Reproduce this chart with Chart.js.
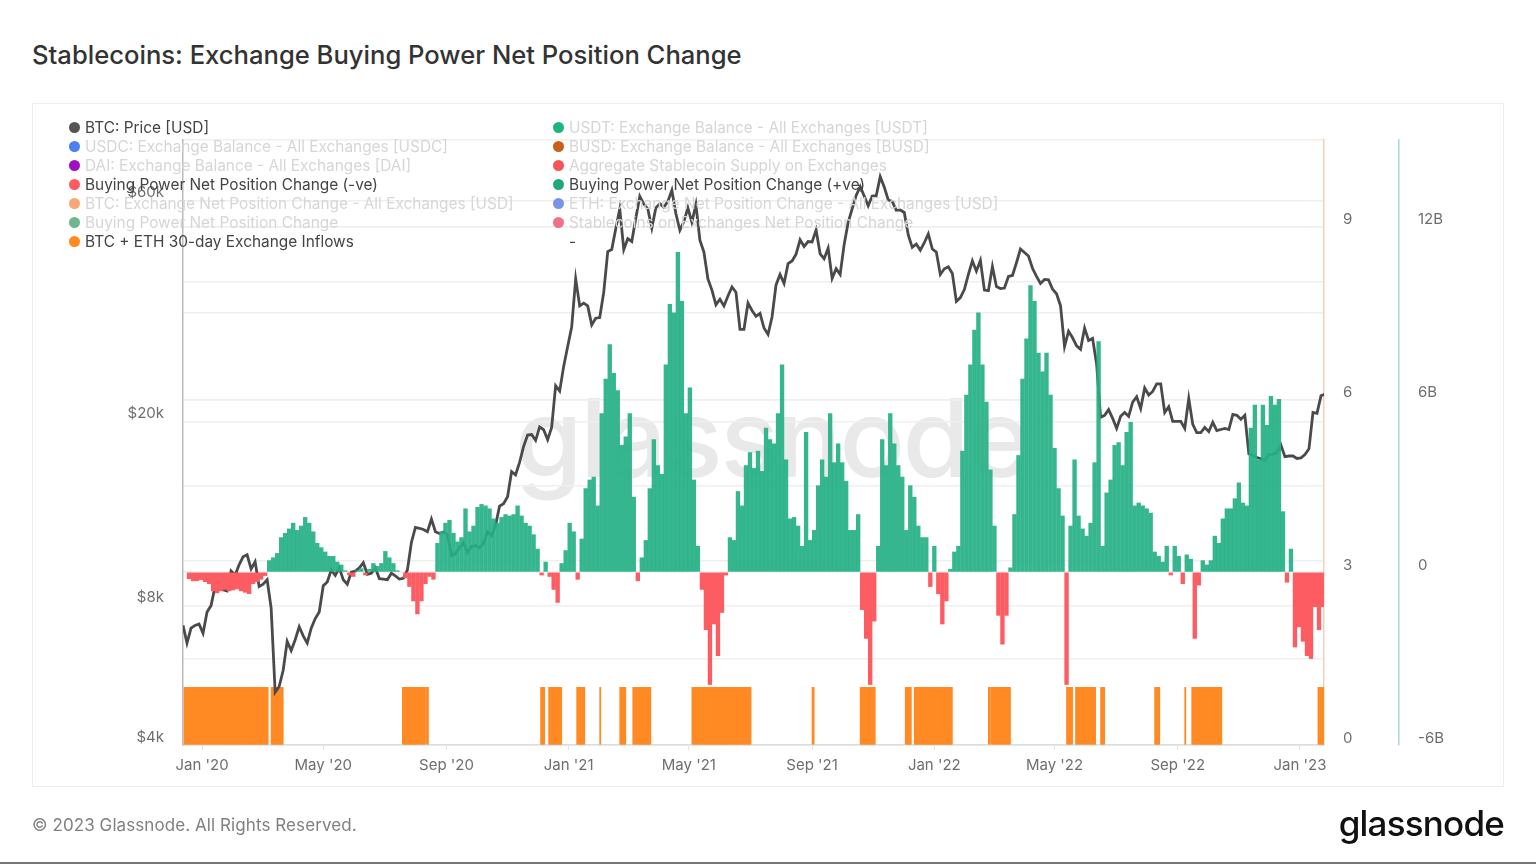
<!DOCTYPE html>
<html>
<head>
<meta charset="utf-8">
<title>Stablecoins: Exchange Buying Power Net Position Change</title>
<script src="https://cdn.jsdelivr.net/npm/chart.js@4/dist/chart.umd.min.js"></script>
<style>
  html, body { margin: 0; padding: 0; background: #fff; overflow: hidden; }
  body { width: 1536px; height: 864px; position: relative; font-family: Inter, sans-serif; }
  h1 { position: absolute; left: 32px; top: 39px; margin: 0; font-size: 25.6px; line-height: 32px; font-weight: 500; color: #333; white-space: nowrap; }
  #card { position: absolute; left: 32px; top: 103px; width: 1470px; height: 682px; border: 1.5px solid #eee; }
  #watermark { position: absolute; left: 515px; top: 372px; font: 500 109px/130px Inter, sans-serif; letter-spacing: -2.6px; color: #e9e9e9; white-space: nowrap; }
  canvas { position: absolute; left: 0; top: 0; }
  #legend span { position: absolute; font-size: 15.4px; line-height: 20px; white-space: nowrap; }
  #legend i { position: absolute; width: 11px; height: 11px; border-radius: 50%; }
  #footer { position: absolute; left: 32px; top: 815px; font-size: 17px; line-height: 21px; color: #808080; letter-spacing: .08px; }
  #logo { position: absolute; right: 32px; top: 802px; font: 500 35px/42px Inter, sans-serif; letter-spacing: -.8px; color: #111; }
  #edge { position: absolute; left: 0; top: 862px; width: 1536px; height: 2px; background: #777; }
</style>
</head>
<body>
<h1>Stablecoins: Exchange Buying Power Net Position Change</h1>
<div id="card"></div>
<div id="watermark">glassnode</div>
<canvas id="chart" width="1536" height="864"></canvas>
<div id="legend"></div>
<div id="footer">© 2023 Glassnode. All Rights Reserved.</div>
<div id="logo">glassnode</div>
<div id="edge"></div>
<script>
// x axis is days since 13 Dec 2019
const tickDays = [19, 140, 263, 385, 505, 628, 750, 870, 993, 1115];
const tickNames = ["Jan '20", "May '20", "Sep '20", "Jan '21", "May '21", "Sep '21", "Jan '22", "May '22", "Sep '22", "Jan '23"];
const priceTicks = [4000, 8000, 10000, 20000, 40000, 60000];
const priceLabelled = [4000, 8000, 20000, 60000];
const inflowTicks = [0, 3, 6, 9];
const netTicks = [-6, -3, 0, 3, 6, 9, 12, 15];
const netLabelled = [-6, 0, 6, 12];

// BTC price, one value every 4 days from day 0
const btcPrice = [
  7250, 6640, 7150, 7250, 7300, 6970, 7750, 8000, 8800, 8900, 8650, 8600, 9500, 9300, 9800, 10200, 10300, 9600, 9950, 8800,
  8900, 9100, 7900, 5200, 5350, 5800, 6700, 6400, 6750, 7200, 6880, 6640, 7150, 7500, 7750, 8830, 9000, 9550, 9300, 9650,
  9100, 8900, 9450, 9500, 9650, 9900, 9350, 9400, 9650, 9150, 9130, 9100, 9400, 9270, 9130, 9160, 9550, 10950, 11800, 11750,
  11680, 11550, 12300, 11550, 11450, 11530, 11400, 10250, 10350, 10680, 10930, 10420, 10730, 10780, 10670, 10900, 11550, 11320, 11920, 13120,
  13280, 13740, 15580, 15330, 16300, 17650, 18680, 18730, 18200, 19450, 19180, 18250, 19400, 23870, 23240, 26280, 29000, 31970, 40600, 35500,
  36000, 35500, 32300, 33400, 33500, 38000, 46500, 47000, 52100, 57500, 47000, 49600, 48900, 54900, 61200, 58900, 57500, 52300, 57800, 59000,
  58000, 59700, 63100, 56200, 51700, 54000, 57800, 53800, 58800, 49200, 46400, 40600, 38400, 35700, 36700, 35500, 37300, 39000, 38000, 31600,
  31600, 36000, 34700, 33700, 34200, 31800, 30800, 33600, 39400, 41500, 39700, 43800, 44400, 45900, 49300, 47700, 48900, 48800, 51800, 46000,
  44900, 47300, 40700, 42700, 41500, 48200, 53800, 57500, 61500, 64300, 61300, 58400, 61300, 61400, 67500, 64100, 60100, 59700, 57100, 57200,
  56500, 50500, 47500, 48300, 46800, 48600, 50800, 47100, 46400, 41500, 42700, 43100, 41700, 36300, 37000, 38500, 41500, 44400, 42200, 44500,
  38400, 38300, 43200, 39100, 38700, 38800, 41100, 41300, 44000, 47100, 46300, 45500, 42800, 41100, 39700, 40500, 40400, 38600, 37700, 35500,
  29000, 31300, 30300, 29100, 28600, 31800, 29900, 30200, 26600, 20400, 20600, 21200, 20300, 19300, 20500, 20900, 20500, 22000, 22600, 21300,
  23600, 22800, 23200, 24100, 24100, 20900, 21500, 20000, 20000, 20000, 19300, 22400, 19700, 18900, 18900, 19400, 19000, 19900, 19100, 19200,
  19300, 19200, 20700, 20600, 20200, 20600, 17000, 16900, 16700, 16600, 16450, 16950, 16970, 17120, 17780, 16780, 16830, 16830, 16630, 16680,
  16950, 17440, 20900, 20800, 22700, 22900
];

// Buying power net position change in billions, one value every 4 days from day 6
const netChange = [
  -0.23, -0.3, -0.3, -0.26, -0.33, -0.4, -0.65, -0.72, -0.65, -0.6, -0.65, -0.62, -0.58, -0.65, -0.7, -0.75, -0.4, -0.33, -0.25, -0.12,
  0.4, 0.5, 0.65, 1.2, 1.35, 1.5, 1.7, 1.45, 1.6, 1.9, 1.7, 1.4, 1.0, 0.85, 0.7, 0.55, 0.55, 0.35, 0.25, 0.05,
  -0.1, -0.15, 0.05, 0.12, -0.1, 0.1, 0.3, 0.2, 0.3, 0.72, 0.5, 0.3, 0.05, 0, -0.2, -0.5, -1.0, -1.45, -1.0, -0.4,
  -0.15, -0.25, 1.0, 1.4, 1.7, 1.8, 1.35, 1.05, 1.2, 2.2, 1.4, 1.6,
  2.25, 2.35, 2.3, 2.2, 1.85, 1.7, 1.9, 2.0, 1.95, 2.0, 2.3, 1.95, 1.7, 1.6, 1.3, 0.8, -0.1, 0.35, -0.15, -0.6,
  -1.05, 0.3, 0.75, 1.7, 1.4, -0.25, 1.15, 2.9, 3.2, 3.3, 2.3, 5.5, 6.7, 7.9, 6.9, 6.3, 4.4, 4.7, 5.5, 2.6,
  -0.3, 0.5, 1.1, 2.9, 4.6, 3.7, 3.4, 7.2, 9.3, 9.0, 11.1, 9.4, 5.5, 6.4, 3.2, 0.9, -0.6, -2.0, -3.9, -1.8,
  -2.9, -1.4, -0.1, 1.2, 1.1, 2.8, 2.3, 3.7, 4.15, 3.6, 4.2, 3.5, 5.0, 4.6,
  4.45, 5.5, 7.2, 3.9, 1.85, 1.9, 1.6, 0.9, 4.85, 1.1, 1.45, 3.0, 3.9, 3.3, 5.5, 3.8, 4.45, 3.8, 3.15, 1.45,
  1.45, 2.0, -1.3, -2.3, -3.9, -1.7, 0.9, 4.6, 3.7, 5.5, 4.45, 3.7, 3.3, 1.45, 3.0, 2.6, 1.6, 1.2, 1.2, -0.5,
  0.9, -0.75, -1.8, -1.0, 0.1, 0.7, 0.9, 4.2, 6.15, 7.2, 8.4, 9.0, 7.2, 5.9, 3.55, 1.6, -1.5, -2.5, -1.5, 0.15,
  2.0, 4.05, 6.7, 8.1, 9.95, 9.4, 7.6, 6.95, 7.6, 6.15, 4.3, 2.9,
  1.95, -3.9, 1.6, 3.9, 1.95, 1.5, 1.25, 1.7, 3.8, 8.0, 0.9, 2.75, 3.2, 4.4, 4.5, 3.7, 4.85, 5.2, 2.3, 2.4,
  2.3, 2.2, 2.05, 0.7, 0.55, 0.35, 0.9, -0.1, 0.9, 0.55, -0.4, 0.6, 0.45, -2.3, -0.45, 0.4, 0.25, 0.4, 1.25, 1.0,
  1.85, 2.2, 2.2, 2.55, 3.1, 2.4, 2.3, 5.0, 5.8, 3.9, 5.8, 5.1, 6.1, 5.8, 6.0, 2.1, -0.35, 0.8, -2.6, -1.9,
  -2.4, -2.9, -3.0, -1.2, -2.0, -1.2
];

// first and last day of each run of high BTC + ETH exchange inflows
const inflowRuns = [
  [1, 85], [88, 100], [219, 242], [243, 245], [357, 361], [365, 378], [393, 401], [416, 417], [436, 442], [449, 467],
  [508, 567], [628, 630], [676, 691], [721, 727], [730, 768], [804, 806], [807, 826], [882, 888], [891, 911], [916, 920],
  [970, 975], [1000, 1001], [1007, 1037], [1133, 1141]
];
const inflowLevel = 1;

const legendLeft = [
  ["BTC: Price [USD]", "#555555", true],
  ["USDC: Exchange Balance - All Exchanges [USDC]", "#4a80f0", false],
  ["DAI: Exchange Balance - All Exchanges [DAI]", "#a010c0", false],
  ["Buying Power Net Position Change (-ve)", "#fd5c63", true],
  ["BTC: Exchange Net Position Change - All Exchanges [USD]", "#f8a673", false],
  ["Buying Power Net Position Change", "#6fb58e", false],
  ["BTC + ETH 30-day Exchange Inflows", "#ff8a1f", true],
];
const legendRight = [
  ["USDT: Exchange Balance - All Exchanges [USDT]", "#1db57e", false],
  ["BUSD: Exchange Balance - All Exchanges [BUSD]", "#c8601c", false],
  ["Aggregate Stablecoin Supply on Exchanges", "#f55555", false],
  ["Buying Power Net Position Change (+ve)", "#1fa87c", true],
  ["ETH: Exchange Net Position Change - All Exchanges [USD]", "#7a93e8", false],
  ["Stablecoins on Exchanges Net Position Change", "#f2708a", false],
  ["-", null, true],
];

const green = "rgba(38, 176, 133, 0.93)";
const red = "rgb(253, 92, 99)";
const orange = "#ff8a24";
const lineGrey = "#4a4a4a";
const gridGrey = "#efefef";
const tickGrey = "#6e6e6e";

function addLegend(items, dotX, textX) {
  const box = document.getElementById("legend");
  items.forEach(([name, color, active], i) => {
    const y = 117.5 + i * 19.1;
    if (color) {
      const dot = document.createElement("i");
      dot.style.cssText = `left:${dotX}px;top:${y + 4}px;background:${color}`;
      box.appendChild(dot);
    }
    const label = document.createElement("span");
    label.textContent = name;
    label.style.cssText = `left:${textX}px;top:${y}px;color:${active ? "#444" : "#d6d6d6"}`;
    box.appendChild(label);
  });
}
addLegend(legendLeft, 68.5, 85);
addLegend(legendRight, 552.5, 569);

const netPoints = netChange.map((v, i) => ({ x: 6 + i * 4, y: v }));
const inflowPoints = [];
inflowRuns.forEach(([from, to]) => {
  for (let d = from; d < to; d++) inflowPoints.push({ x: d + 0.5, y: inflowLevel });
});

const tickFont = { family: "Inter, sans-serif", size: 15 };

new Chart(document.getElementById("chart"), {
  data: {
    datasets: [
      {
        type: "bar",
        label: "Buying Power Net Position Change (+ve)",
        data: netPoints.filter((p) => p.y > 0),
        backgroundColor: green,
        yAxisID: "yNet",
        barThickness: 3.7,
        grouped: false,
        order: 1,
      },
      {
        type: "bar",
        label: "Buying Power Net Position Change (-ve)",
        data: netPoints.filter((p) => p.y < 0),
        backgroundColor: red,
        yAxisID: "yNet",
        barThickness: 3.7,
        grouped: false,
        order: 1,
      },
      {
        type: "line",
        label: "BTC: Price [USD]",
        data: btcPrice.map((v, i) => ({ x: i * 4, y: v })),
        borderColor: lineGrey,
        borderWidth: 2.8,
        pointRadius: 0,
        tension: 0,
        yAxisID: "yPrice",
        order: 2,
      },
      {
        type: "bar",
        label: "BTC + ETH 30-day Exchange Inflows",
        data: inflowPoints,
        backgroundColor: orange,
        yAxisID: "yInflow",
        barThickness: 1.15,
        grouped: false,
        order: 3,
      },
    ],
  },
  options: {
    responsive: false,
    animation: false,
    events: [],
    layout: { padding: { top: 140 } },
    plugins: { legend: { display: false }, tooltip: { enabled: false } },
    scales: {
      x: {
        type: "linear",
        offset: false,
        min: 0,
        max: 1139,
        afterBuildTicks: (s) => { s.ticks = tickDays.map((value) => ({ value })); },
        afterFit: (s) => { s.height = 119; },
        grid: { offset: false, drawOnChartArea: false, color: "#e4e4e4", tickLength: 5 },
        border: { color: "#dddddd", width: 1.5 },
        ticks: {
          font: tickFont,
          color: tickGrey,
          padding: 6,
          maxRotation: 0,
          autoSkip: false,
          callback: (v) => tickNames[tickDays.indexOf(v)],
        },
      },
      yPrice: {
        type: "logarithmic",
        position: "left",
        min: 4000,
        max: 81000,
        afterBuildTicks: (s) => { s.ticks = priceTicks.map((value) => ({ value })); },
        afterFit: (s) => { s.width = 183; },
        grid: { color: gridGrey, lineWidth: 1.5, drawTicks: false },
        border: { color: "#bcbcbc", width: 1.5 },
        ticks: {
          font: tickFont,
          color: tickGrey,
          padding: 19,
          labelOffset: -8,
          autoSkip: false,
          callback: (v) => (priceLabelled.includes(v) ? `$${v / 1000}k` : ""),
        },
      },
      yInflow: {
        position: "right",
        min: 0,
        max: 10.5,
        afterBuildTicks: (s) => { s.ticks = inflowTicks.map((value) => ({ value })); },
        afterFit: (s) => { s.width = 75; },
        grid: { color: gridGrey, lineWidth: 1.5, drawTicks: false },
        border: { color: "#f1cfb8", width: 1.5 },
        ticks: {
          font: tickFont,
          color: tickGrey,
          padding: 19,
          labelOffset: -7,
          autoSkip: false,
          callback: (v) => `${v}`,
        },
      },
      yNet: {
        position: "right",
        min: -6,
        max: 15,
        afterBuildTicks: (s) => { s.ticks = netTicks.map((value) => ({ value })); },
        afterFit: (s) => { s.width = 137; },
        grid: { color: gridGrey, lineWidth: 1.5, drawTicks: false },
        border: { color: "#a8dccd", width: 1.5 },
        ticks: {
          font: tickFont,
          color: tickGrey,
          padding: 19,
          labelOffset: -7,
          autoSkip: false,
          callback: (v) => (netLabelled.includes(v) ? (v === 0 ? "0" : `${v}B`) : ""),
        },
      },
    },
  },
});
</script>
</body>
</html>
